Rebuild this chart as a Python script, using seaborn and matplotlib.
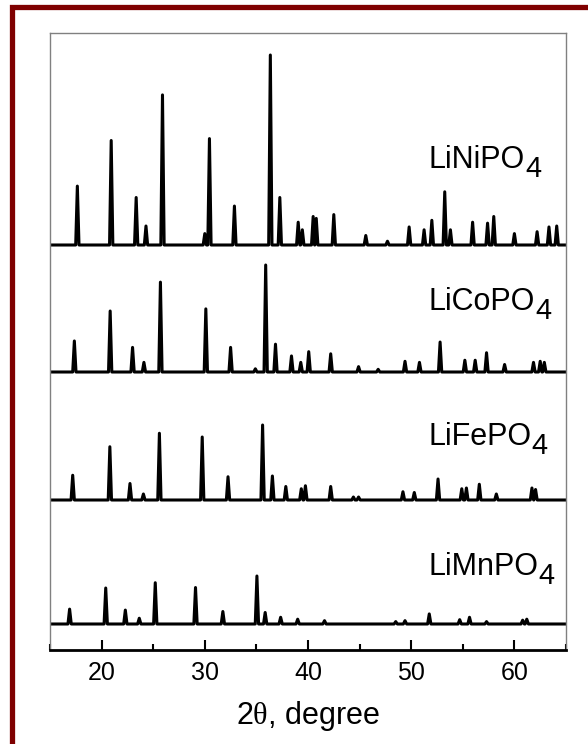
import matplotlib
matplotlib.use('Agg')
import matplotlib.pyplot as plt
import matplotlib.patches as patches
from matplotlib.ticker import MultipleLocator
import pandas as pd
import seaborn as sns

sns.set_style('white')
plt.rcParams['font.family'] = ['Liberation Sans', 'DejaVu Sans']
plt.rcParams['mathtext.fontset'] = 'custom'
plt.rcParams['mathtext.rm'] = 'Liberation Serif'
plt.rcParams['text.color'] = 'black'
plt.rcParams['axes.labelcolor'] = 'black'
plt.rcParams['xtick.color'] = 'black'

# ---- peak positions (2theta, deg) and relative intensities (%) ----
ni_pos = [17.65, 20.93, 23.35, 24.3, 25.9, 30.0, 30.45, 32.87, 36.35, 37.27, 39.05, 39.45,
          40.5, 40.8, 42.5, 45.6, 47.7, 49.8, 51.25, 52.0, 53.25, 53.8, 55.95, 57.4, 58.0,
          60.0, 62.2, 63.35, 64.1]
ni_int = [31, 55, 25, 10, 79, 6, 56, 20.5, 100, 25, 12, 8,
          15, 14, 16, 5, 2, 9.5, 8, 13, 28, 8, 12, 11.5, 15,
          6, 7, 9.5, 10]

co_pos = [17.36, 20.83, 23.0, 24.1, 25.7, 30.1, 32.5, 34.9, 35.9, 36.85, 38.4, 39.3, 40.07,
          42.2, 44.9, 46.8, 49.4, 50.8, 52.8, 55.2, 56.2, 57.3, 59.05, 61.85, 62.5, 62.9]
co_int = [29, 57, 23, 9, 84, 59, 23, 3, 100, 26, 15, 9, 19,
          17, 5, 2.5, 10, 9, 28, 11, 11, 18, 7, 9, 10, 9]

fe_pos = [17.2, 20.8, 22.75, 24.05, 25.6, 29.75, 32.25, 35.6, 36.55, 37.85, 39.35, 39.75,
          42.2, 44.4, 44.9, 49.2, 50.3, 52.6, 54.9, 55.35, 56.6, 58.25, 61.7, 62.05]
fe_int = [33, 71, 22, 8, 89, 84, 31, 100, 32, 18, 15, 19,
          18, 4, 4, 11, 10, 28, 15, 16, 21, 8, 16, 14]

mn_pos = [16.9, 20.4, 22.3, 23.65, 25.2, 29.1, 31.75, 35.05, 35.85, 37.35, 39.0, 41.6,
          48.5, 49.4, 51.75, 54.7, 55.65, 57.3, 60.8, 61.2]
mn_int = [31, 75, 29, 12, 86, 76, 26, 100, 24, 14, 10, 7,
          5, 7, 21, 9, 14, 5, 8, 10]

names = ['LiMnPO', 'LiFePO', 'LiCoPO', 'LiNiPO']
positions = [mn_pos, fe_pos, co_pos, ni_pos]
intensities = [mn_int, fe_int, co_int, ni_int]
offsets = [26, 150, 278, 405]      # stacking offset of each pattern (a.u.)
scales = [48, 75, 107, 190]        # height of the strongest reflection (a.u.)
label_y = [75, 205, 340, 482]

HALF = 0.16  # half width of a reflection at its foot, deg

rows = []
for name, pos, inten, off, sc in zip(names, positions, intensities, offsets, scales):
    rows.append((name, 15.0, off))
    for p, h in zip(pos, inten):
        rows.append((name, p - HALF, off))
        rows.append((name, p, off + h / 100 * sc))
        rows.append((name, p + HALF, off))
    rows.append((name, 65.0, off))
df = pd.DataFrame(rows, columns=['sample', 'two_theta', 'intensity'])

fig = plt.figure(figsize=(5.88, 7.44), dpi=100)
ax = fig.add_axes([50 / 588, 94 / 744, 516 / 588, 617 / 744])

sns.lineplot(data=df, x='two_theta', y='intensity', units='sample', estimator=None,
             sort=False, color='black', lw=2.2, ax=ax)

ax.set_xlim(15, 65)
ax.set_ylim(0, 617)
ax.set_yticks([])
ax.set_ylabel('')
ax.xaxis.set_major_locator(MultipleLocator(10))
ax.xaxis.set_minor_locator(MultipleLocator(5))
ax.tick_params(axis='x', which='major', direction='in', length=7, width=1.5,
               labelsize=18, pad=8, bottom=True, colors='black')
ax.tick_params(axis='x', which='minor', direction='in', length=4.5, width=1.5, bottom=True,
               colors='black')
for s in ['left', 'top', 'right']:
    ax.spines[s].set_color('#808080')
    ax.spines[s].set_linewidth(1.0)
ax.spines['bottom'].set_color('black')
ax.spines['bottom'].set_linewidth(2.0)
ax.set_xlabel(r'2$\mathrm{\theta}$, degree', fontsize=22, labelpad=10, color='black')

for name, y in zip(names, label_y):
    t = ax.text(51.7, y, name, fontsize=22, ha='left', va='baseline', color='black')
    ax.annotate('4', xy=(1, 0), xycoords=t, xytext=(0, -6), textcoords='offset points',
                ha='left', va='bottom', fontsize=21, color='black')

# dark red frame around the picture
fig.patches.append(patches.Rectangle((11.5 / 588, -0.05), 1.2, 1 - 6.7 / 744 + 0.05,
                                     transform=fig.transFigure, fill=False,
                                     edgecolor='#7f0000', lw=3.8, clip_on=False))

fig.savefig('out.png', dpi=100)
